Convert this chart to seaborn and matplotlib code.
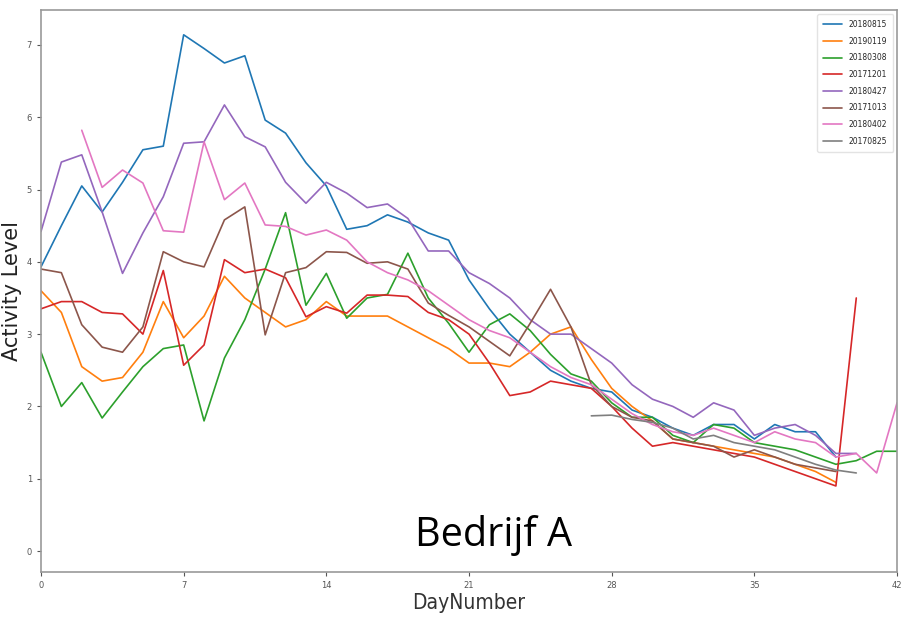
import numpy as np
import pandas as pd
import matplotlib.pyplot as plt
import seaborn as sns

# activity level per day, one list per sample date (None = no measurement)
days = list(range(43))

s20180815 = [3.93, 4.5, 5.05, 4.69, 5.1, 5.55, 5.6, 7.14, 6.95, 6.75, 6.85, 5.96, 5.78, 5.37, 5.05,
             4.45, 4.5, 4.65, 4.55, 4.4, 4.3, 3.75, 3.35, 3.0, 2.75, 2.5, 2.35, 2.25, 2.2, 1.95,
             1.85, 1.7, 1.6, 1.75, 1.75, 1.55, 1.75, 1.65, 1.65, 1.3, None, None, None]
s20190119 = [3.6, 3.3, 2.55, 2.35, 2.4, 2.75, 3.45, 2.95, 3.25, 3.8, 3.5, 3.3, 3.1, 3.2, 3.45,
             3.25, 3.25, 3.25, 3.1, 2.95, 2.8, 2.6, 2.6, 2.55, 2.75, 3.0, 3.1, 2.65, 2.25, 2.0,
             1.8, 1.55, 1.5, 1.45, 1.4, 1.35, 1.3, 1.2, 1.1, 0.95, None, None, None]
s20180308 = [2.75, 2.0, 2.33, 1.84, 2.2, 2.55, 2.8, 2.85, 1.8, 2.67, 3.2, 3.9, 4.68, 3.4, 3.84,
             3.22, 3.5, 3.55, 4.12, 3.5, 3.15, 2.75, 3.13, 3.28, 3.05, 2.72, 2.45, 2.35, 2.05, 1.85,
             1.85, 1.6, 1.5, 1.75, 1.7, 1.5, 1.45, 1.4, 1.3, 1.2, 1.25, 1.38, 1.38]
s20171201 = [3.35, 3.45, 3.45, 3.3, 3.28, 3.0, 3.88, 2.57, 2.85, 4.03, 3.85, 3.9, 3.78, 3.24, 3.38,
             3.29, 3.54, 3.54, 3.52, 3.3, 3.2, 3.0, 2.6, 2.15, 2.2, 2.35, 2.3, 2.25, 2.0, 1.7,
             1.45, 1.5, 1.45, 1.4, 1.35, 1.3, 1.2, 1.1, 1.0, 0.9, 3.5, None, None]
s20180427 = [4.42, 5.38, 5.48, 4.69, 3.84, 4.4, 4.9, 5.64, 5.66, 6.17, 5.73, 5.59, 5.1, 4.81, 5.1,
             4.95, 4.75, 4.8, 4.6, 4.15, 4.15, 3.85, 3.7, 3.5, 3.2, 3.0, 3.0, 2.8, 2.6, 2.3,
             2.1, 2.0, 1.85, 2.05, 1.95, 1.6, 1.7, 1.75, 1.6, 1.35, 1.35, None, None]
s20171013 = [3.9, 3.85, 3.13, 2.82, 2.75, 3.1, 4.14, 4.0, 3.93, 4.58, 4.76, 2.99, 3.85, 3.92, 4.14,
             4.13, 3.98, 4.0, 3.9, 3.43, 3.26, 3.1, 2.9, 2.7, 3.15, 3.62, 3.1, 2.3, 2.0, 1.85,
             1.8, 1.55, 1.5, 1.45, 1.3, 1.4, 1.3, 1.2, 1.15, 1.1, None, None, None]
s20180402 = [None, None, 5.82, 5.03, 5.27, 5.09, 4.43, 4.41, 5.66, 4.86, 5.09, 4.51, 4.49, 4.37, 4.44,
             4.3, 4.0, 3.85, 3.75, 3.6, 3.4, 3.2, 3.05, 2.95, 2.75, 2.55, 2.4, 2.3, 2.1, 1.9,
             1.75, 1.65, 1.6, 1.7, 1.6, 1.5, 1.65, 1.55, 1.5, 1.3, 1.35, 1.08, 2.05]
s20170825 = [None] * 27 + [1.87, 1.88, 1.82, 1.78, 1.7, 1.55, 1.6, 1.5, 1.45, 1.4, 1.3, 1.2,
                           1.12, 1.08, None, None]

labels = ["20180815", "20190119", "20180308", "20171201",
          "20180427", "20171013", "20180402", "20170825"]
series = [s20180815, s20190119, s20180308, s20171201,
          s20180427, s20171013, s20180402, s20170825]

wide = pd.DataFrame({lab: vals for lab, vals in zip(labels, series)}, index=days, dtype=float)
wide.index.name = "DayNumber"
df = wide.reset_index().melt(id_vars="DayNumber", var_name="date", value_name="Activity Level")
df = df.dropna()

sns.set_style("white")
fig = plt.figure(figsize=(9.03, 6.27), dpi=100)
ax = fig.add_axes([0.0454, 0.0877, 0.948, 0.896])

sns.lineplot(data=df, x="DayNumber", y="Activity Level", hue="date", hue_order=labels,
             palette=sns.color_palette("tab10", 8), linewidth=1.2, ax=ax)

ax.set_xlim(0, 42)
ax.set_ylim(-0.29, 7.48)
ax.set_xticks(range(0, 43, 7))
ax.set_yticks(range(0, 8))
ax.tick_params(labelsize=6, colors="#555555", length=3, direction="out", left=True, bottom=True)
for sp in ax.spines.values():
    sp.set_color("#999999")
    sp.set_linewidth(1.2)

ax.set_xlabel("DayNumber", fontsize=15, color="#333333", labelpad=2, fontstretch="condensed")
ax.set_ylabel("Activity Level", fontsize=15, color="#222222", labelpad=3)

ax.legend(loc="upper right", fontsize=5.5, frameon=True, edgecolor="#dddddd",
          handlelength=2.5, labelspacing=1.0, borderpad=0.8)

fig.text(0.46, 0.129, "Bedrijf A", fontsize=28.5, family="Open Sans", color="black")

plt.savefig("out.png", dpi=100)
